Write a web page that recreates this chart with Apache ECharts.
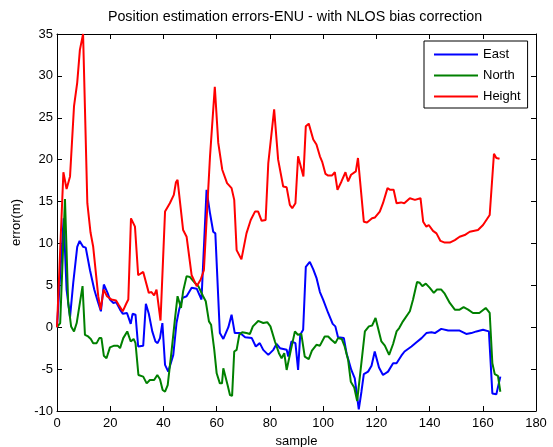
<!DOCTYPE html>
<html>
<head>
<meta charset="utf-8">
<script src="https://cdn.jsdelivr.net/npm/echarts@6/dist/echarts.min.js"></script>
<style>
html,body{margin:0;padding:0;background:#fff;}
#chart{width:553px;height:447px;}
</style>
</head>
<body>
<div id="chart"></div>
<script>
var titleText = 'Position estimation errors-ENU - with NLOS bias correction';
var xName = 'sample';
var yName = 'error(m)';
var seriesNames = ['East', 'North', 'Height'];
var xTicks = {min: 0, max: 180, interval: 20};
var yTicks = {min: -10, max: 35, interval: 5};

var eastX = [0,2.5,3.6,4.9,6.1,7.6,8.5,9.8,10.8,12.4,14,15.3,16.5,17.6,19,19.9,21.2,22.2,23.7,24.7,26.3,27,27.7,28.4,29.5,30.5,32.4,33.4,34.5,35.8,37,37.8,38.7,39.6,40.6,41.8,43.7,44.9,45.9,47.2,48.7,50.6,52.5,54.3,56.2,57.5,58.7,59.5,61.2,62.5,64.4,65.6,66.8,68.8,70.7,73.2,74.7,76.2,77.5,79.4,81.3,82.5,83.8,86.3,86.9,88.1,89.6,90.6,91.4,92.5,93.5,95,96.3,97.5,98.8,100,101.9,103.6,104.6,105.6,107.8,108.8,110.6,111.9,113.4,114.4,115.3,116.9,118.2,119.4,121,122.5,124.4,126.3,127.6,129.4,130.6,133.2,135.1,137,138.8,140.7,142,144.4,147,151.3,153.8,155.7,157.6,160.1,162.3,163.6,165.1,165.7,166.6];
var eastY = [0,13,4.5,1.2,5.3,9.6,10.3,9.6,9.5,6.8,4.5,3.1,1.9,5.1,4.1,3.3,2.9,3.0,2.1,1.6,1.7,1.6,0.4,1.6,1.5,-2.3,-2.2,2.8,1.6,-0.5,-1.7,-1.9,-1.3,0.5,-4.5,-5.3,-3.3,0.5,2.1,3.5,3.7,4.7,4.6,3.3,16.4,13.6,11.4,11.2,-0.7,-1.4,0,1.5,-0.7,-0.7,-1.2,-1.3,-2.3,-1.9,-2.7,-3.3,-2.7,-2.0,-2.5,-2.7,-3.5,-1.7,-1.9,-5.1,-0.9,-0.3,7.2,7.8,6.9,5.9,4.2,3.3,1.7,0.4,0.1,-1.2,-1.3,-3.1,-5.1,-6.1,-9.8,-7.7,-5.6,-5.3,-4.6,-2.9,-4.8,-5.7,-5.3,-4.3,-4.3,-3.4,-2.9,-2.3,-1.8,-1.3,-0.7,-0.6,-0.7,-0.2,-0.4,-0.4,-0.8,-0.7,-0.5,-0.3,-0.5,-7.9,-8.0,-8.2,-5.9];

var northX = [0,1.2,3,4.2,5.3,6.4,7.4,8.6,9.6,10.5,11.7,12.7,13.6,14.9,15.9,16.7,17.6,18.6,19.9,21.5,22.8,23.7,24.9,26.4,27.7,28.8,29.5,30.6,32.4,33.7,34.9,36.5,37.7,38.7,39.7,40.6,41.6,43.1,44.3,45.3,46.6,47.4,48.7,49.9,51.8,53.1,54.9,55.9,57.1,57.9,59.1,60,61.2,62,62.5,64.1,65,65.8,66.6,67.5,68.5,69.6,71.2,72.5,73.6,75.6,77.5,79,80.2,81.9,83.4,84.4,85.4,86.3,87.9,89.4,90.5,91.8,93.1,94.6,95.8,97.5,98.8,100.6,101.9,103.1,104.6,105.6,107,108.1,109.4,110.4,111.7,112.8,115.7,117.2,118.4,119.7,121.9,123.2,124.8,126.3,127.6,128.6,130,132.6,133.8,135.3,136.3,137.3,138.6,140.1,141.6,142.8,144.4,145.7,147.6,149.5,151.3,152.8,154.5,156.3,158.7,161.1,162.6,163.6,164.5,165.7,166.6];
var northY = [0,0.5,15.3,2.9,0.1,-0.5,0.5,2.9,4.9,-0.9,-1.1,-1.4,-1.9,-1.9,-1.3,-1.3,-3.4,-3.7,-2.4,-2.2,-2.2,-2.5,-1.3,-0.5,-1.7,-1.4,-1.9,-5.7,-5.9,-6.7,-6.3,-6.3,-5.7,-6.2,-7.5,-7.7,-6.9,-2.7,0.9,3.7,2.3,4.3,6.1,6.0,5.3,4.9,3.7,3.1,0.7,0.3,-2.7,-5.5,-6.7,-6.7,-4.9,-6.9,-8.1,-8.2,-2.9,-2.7,-0.9,-0.6,-0.7,-0.8,0.1,0.75,0.5,0.6,0.1,-1.7,-3.1,-3.7,-3.1,-5.1,-2.7,-0.5,-0.9,-0.8,-3.5,-3.8,-2.8,-2.1,-2.2,-1.1,-1.1,-1.5,-1.9,-1.3,-1.4,-2.3,-3.9,-6.5,-7.2,-8.8,-0.5,0.1,0.2,1.1,-1.7,-2.2,-3.3,-2,-0.5,-0.1,0.7,1.9,3.3,5.4,5.3,4.9,5.2,4.7,4.1,4.5,4.5,4.0,2.9,2.1,2.1,2.4,2.1,1.7,1.7,2.3,1.7,-4.3,-5.6,-5.8,-7.7];

var heightX = [0,2.4,3.6,4.9,6.4,7.6,8.6,9.8,11.4,12.6,13.6,15.5,16.4,17.5,18.8,20.5,22.2,23.1,24.7,26,26.8,27.8,29.3,29.9,30.5,32.4,34.5,35.5,36.5,37.4,38.9,40.6,42.4,43.9,44.7,45.3,47.4,48.7,50.6,52.5,54,55.2,57.5,59.3,60.6,62.1,63.9,65.6,66.6,67.5,69.3,71.2,72.8,74.4,75.6,76.9,78.4,79.4,81.6,83.1,85,86.3,87.5,88.4,89.6,90.6,92.6,93.5,94.6,96.3,97.5,98.8,99.7,100.9,101.9,103.3,104.4,105.4,106.9,108.4,109.4,110.5,112.3,113.1,115.3,116.5,118.4,119.5,121.3,122.5,124.2,125.2,126.5,127.6,129.3,130.5,132.6,134.5,136.6,137.6,138.8,139.7,141.3,142.6,144.1,145.7,147.6,149.5,151.3,153.2,155.1,158.2,160.1,162.6,164.2,165.1,166.3];
var heightY = [0,18.5,16.5,18,26.4,29.2,33.1,35,14.8,11.3,9.6,3.7,2.1,4.5,3.7,3.3,3.2,2.7,1.9,2.8,3.3,13,12,11.8,6.2,6.6,4.1,4.2,3.8,4.5,0.8,13.8,14.8,15.8,17.3,17.6,11.6,10.8,6.2,4.9,5.7,6.8,20.4,28.7,22,18.8,17.2,16.6,15.2,9.2,8.1,11.2,12.8,13.8,13.8,12.7,12.8,19.6,26,20,16.8,16.7,14.6,14.2,14.8,20.4,18,24,24.3,22.4,21.8,20.4,19.7,18.3,18.1,18.1,18.5,16.4,17.4,18.5,17.4,18.2,18.6,20.2,12.6,12.5,13,13.1,13.8,14.8,16.6,16.4,16.4,14.8,14.9,14.8,15.4,15.2,15.4,12.6,12,12.2,11.5,11.2,10.3,10.1,10.1,10.4,10.8,11,11.4,11.6,12.2,13.4,20.7,20.2,20.1];

function pairs(xs, ys) {
  var out = [];
  var n = Math.min(xs.length, ys.length);
  for (var i = 0; i < n; i++) out.push([xs[i], ys[i]]);
  return out;
}

var FONT = '"Liberation Sans", Arial, Helvetica, sans-serif';
var chart = echarts.init(document.getElementById('chart'), null, {renderer: 'canvas'});

function axisCommon(extra) {
  var base = {
    type: 'value',
    axisLine: {show: true, onZero: false, lineStyle: {color: '#000', width: 1}},
    axisTick: {show: true, inside: true, length: 5, lineStyle: {color: '#000', width: 1}},
    splitLine: {show: false},
    axisLabel: {color: '#000', fontSize: 13, fontFamily: FONT},
    nameTextStyle: {color: '#000', fontSize: 13, fontFamily: FONT}
  };
  for (var k in extra) base[k] = extra[k];
  return base;
}

var option = {
  backgroundColor: '#fff',
  animation: false,
  title: {
    text: titleText,
    left: 295,
    textAlign: 'center',
    top: 10,
    padding: 0,
    textStyle: {color: '#000', fontSize: 14.3, fontWeight: 'normal', fontFamily: FONT}
  },
  grid: {left: 57, right: 17, top: 34, bottom: 36, containLabel: false, outerBoundsMode: 'none'},
  legend: {
    orient: 'vertical',
    left: 424,
    top: 41,
    padding: [7, 7, 5, 9],
    itemWidth: 44,
    itemHeight: 14,
    itemGap: 8,
    itemTextGap: 6,
    backgroundColor: '#fff',
    borderColor: '#000',
    borderWidth: 1,
    borderRadius: 0,
    itemStyle: {opacity: 0},
    textStyle: {color: '#000', fontSize: 13, fontFamily: FONT},
    data: seriesNames
  },
  xAxis: [
    axisCommon({min: xTicks.min, max: xTicks.max, interval: xTicks.interval, position: 'bottom',
      axisLabel: {color: '#000', fontSize: 13, fontFamily: FONT, margin: 6},
      name: xName, nameLocation: 'middle', nameGap: 22}),
    axisCommon({min: xTicks.min, max: xTicks.max, interval: xTicks.interval, position: 'top',
      axisLabel: {show: false}})
  ],
  yAxis: [
    axisCommon({min: yTicks.min, max: yTicks.max, interval: yTicks.interval, position: 'left',
      axisLabel: {color: '#000', fontSize: 13, fontFamily: FONT, margin: 4},
      name: yName, nameLocation: 'middle', nameGap: 33}),
    axisCommon({min: yTicks.min, max: yTicks.max, interval: yTicks.interval, position: 'right',
      axisLabel: {show: false}})
  ],
  series: [
    {name: seriesNames[0], type: 'line', xAxisIndex: 0, yAxisIndex: 0, symbol: 'none',
     color: '#0000ff', lineStyle: {color: '#0000ff', width: 2}, data: pairs(eastX, eastY)},
    {name: seriesNames[1], type: 'line', xAxisIndex: 0, yAxisIndex: 0, symbol: 'none',
     color: '#008000', lineStyle: {color: '#008000', width: 2}, data: pairs(northX, northY)},
    {name: seriesNames[2], type: 'line', xAxisIndex: 0, yAxisIndex: 0, symbol: 'none',
     color: '#ff0000', lineStyle: {color: '#ff0000', width: 2}, data: pairs(heightX, heightY)}
  ]
};
chart.setOption(option);
</script>
</body>
</html>
